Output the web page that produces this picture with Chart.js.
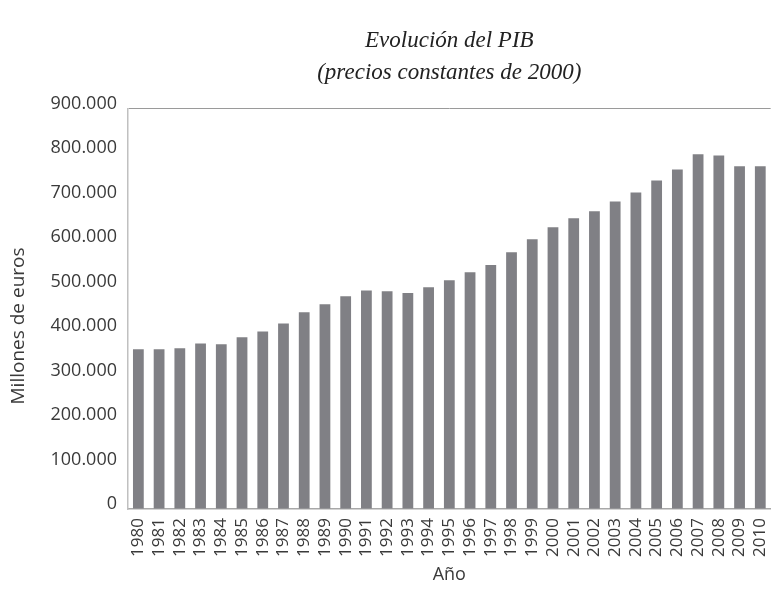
<!DOCTYPE html>
<html>
<head>
<meta charset="utf-8">
<script src="https://cdn.jsdelivr.net/npm/chart.js@4/dist/chart.umd.min.js"></script>
<style>
  html, body { margin: 0; padding: 0; background: #fff; overflow: hidden; }
</style>
</head>
<body>
<canvas id="pibChart" width="790" height="589"></canvas>
<script>
// PIB data (millones de euros, precios constantes de 2000)
const years = ['1980', '1981', '1982', '1983', '1984', '1985', '1986', '1987', '1988', '1989',
               '1990', '1991', '1992', '1993', '1994', '1995', '1996', '1997', '1998', '1999',
               '2000', '2001', '2002', '2003', '2004', '2005', '2006', '2007', '2008', '2009', '2010'];
const pibValues = [359000, 359000, 361000, 372000, 370000, 386000, 399000, 417000, 442000, 460000,
                   478000, 491000, 489000, 485000, 498000, 514000, 532000, 548000, 577000, 606000,
                   633000, 653000, 669000, 691000, 711000, 738000, 763000, 797000, 794000, 770000, 770000];
const yMax = 900000;
const yStep = 100000;

const titleLines = ['Evolución del PIB', '(precios constantes de 2000)'];
// trailing spaces push the rotated axis title a bit lower, like the original
const yTitle = 'Millones de euros       ';
const xTitle = 'Año';

// tick labels like 900.000
function formatThousands(v) {
    return String(v).replace(/\B(?=(\d{3})+(?!\d))/g, '.');
}

const textColor = '#3a3a3a';
const sans = '"Open Sans", sans-serif';

const ctx = document.getElementById('pibChart').getContext('2d');
new Chart(ctx, {
    type: 'bar',
    data: {
        labels: years,
        datasets: [{
            label: 'PIB',
            data: pibValues,
            backgroundColor: '#808085',
            barPercentage: 0.52,
            categoryPercentage: 1.0
        }]
    },
    options: {
        responsive: false,
        animation: false,
        layout: { padding: { top: 0, right: 5, bottom: 0, left: 0 } },
        plugins: {
            legend: { display: false },
            tooltip: { enabled: false },
            title: {
                display: true,
                fullSize: false,
                text: titleLines,
                color: '#222',
                font: { family: '"Liberation Serif", serif', size: 23, style: 'italic', weight: 'normal', lineHeight: 1.4 },
                padding: { top: 25, bottom: 19 }
            }
        },
        scales: {
            x: {
                grid: { display: false, drawTicks: false },
                border: { color: '#a8a8a8', width: 1.5 },
                ticks: {
                    autoSkip: false,
                    maxRotation: 90,
                    minRotation: 90,
                    padding: 9,
                    color: textColor,
                    font: { family: sans, size: 17 }
                },
                title: {
                    display: true,
                    text: xTitle,
                    color: textColor,
                    font: { family: sans, size: 18 },
                    padding: { top: 4, bottom: 3 }
                },
                afterFit(scale) { scale.height = 80; }
            },
            y: {
                min: 0,
                max: yMax,
                grid: {
                    drawTicks: false,
                    color: c => c.tick.value === yMax ? '#9a9a9a' : 'rgba(0,0,0,0)'
                },
                border: { color: '#c0c0c0', width: 1.5 },
                ticks: {
                    stepSize: yStep,
                    padding: 11,
                    labelOffset: -5,
                    color: textColor,
                    font: { family: sans, size: 18 },
                    callback: v => formatThousands(v)
                },
                title: {
                    display: true,
                    text: yTitle,
                    color: textColor,
                    font: { family: sans, size: 19 },
                    padding: { top: 7, bottom: 0 }
                },
                afterFit(scale) { scale.width = 128; }
            }
        }
    }
});
</script>
</body>
</html>
